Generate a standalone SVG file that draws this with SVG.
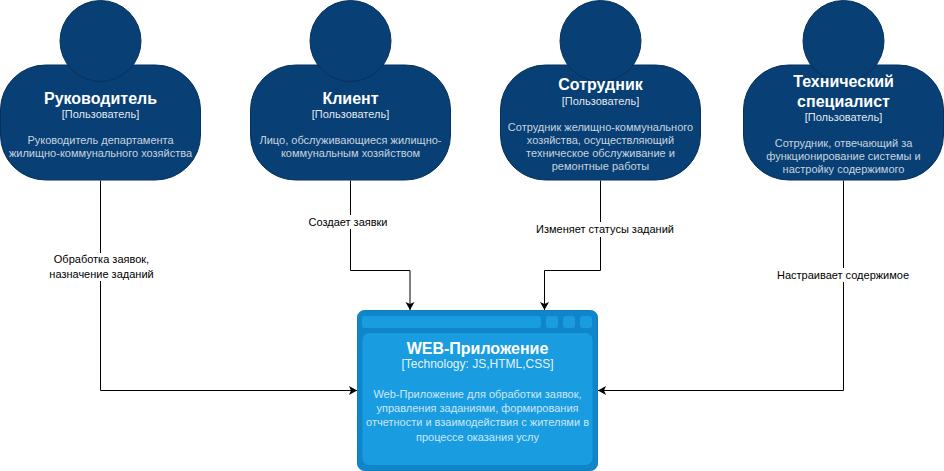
<svg xmlns="http://www.w3.org/2000/svg" width="944" height="471" viewBox="0 0 944 471">
<style>
text{font-family:"Liberation Sans",Arial,sans-serif;text-anchor:middle}
.body,.head{fill:#083f75;stroke:#06315c;stroke-width:1}
.t{font-size:16px;font-weight:bold;fill:#fff}
.s{font-size:11px;fill:#fff;fill-opacity:.9}
.s2{font-size:12px;fill:#fff;fill-opacity:.9}
.d{font-size:11px;fill:#fff;fill-opacity:.78}
.l{font-size:11px;fill:#000}
.lb{fill:#fff}
.c{fill:none;stroke:#000;stroke-width:1}
.w{fill:#1a9de0}
</style>
<defs>
<marker id="a" markerUnits="userSpaceOnUse" markerWidth="10" markerHeight="10" refX="8" refY="4.500" orient="auto"><path d="M0 0L8 4.500L0 9L2 4.500Z" fill="#000"/></marker>
</defs>
<g id="connectors">
<path class="c" marker-end="url(#a)" d="M100.500 180.500V390.500H357"/>
<path class="c" marker-end="url(#a)" d="M350.500 180.500V270.500H410V310"/>
<path class="c" marker-end="url(#a)" d="M600.500 180.500V270.500H544.500V310"/>
<path class="c" marker-end="url(#a)" d="M843.500 180.500V390.500H598"/>
<rect class="lb" x="48" y="253" width="106" height="28"/>
<rect class="lb" x="308" y="215" width="81" height="14"/>
<rect class="lb" x="535" y="222" width="140" height="15"/>
<rect class="lb" x="776" y="268" width="134" height="14"/>
<text class="l" x="101.500" y="263">Обработка заявок,</text>
<text class="l" x="101.500" y="278">назначение заданий</text>
<text class="l" x="348" y="226">Создает заявки</text>
<text class="l" x="605" y="233">Изменяет статусы заданий</text>
<text class="l" x="843" y="279">Настраивает содержимое</text>
</g>
<g id="person-manager">
<rect class="body" x="0.500" y="65" width="200" height="115" rx="45"/>
<circle class="head" cx="100.500" cy="41" r="40.500"/>
<text class="t" x="100.500" y="104">Руководитель</text>
<text class="s" x="100.500" y="118">[Пользователь]</text>
<text class="d" x="100.500" y="144">Руководитель департамента</text>
<text class="d" x="100.500" y="157">жилищно-коммунального хозяйства</text>
</g>
<g id="person-client">
<rect class="body" x="250.500" y="65" width="200" height="115" rx="45"/>
<circle class="head" cx="350.500" cy="41" r="40.500"/>
<text class="t" x="350.500" y="104">Клиент</text>
<text class="s" x="350.500" y="118">[Пользователь]</text>
<text class="d" x="350.500" y="144">Лицо, обслуживающиеся жилищно-</text>
<text class="d" x="350.500" y="157">коммунальным хозяйством</text>
</g>
<g id="person-employee">
<rect class="body" x="500.500" y="65" width="200" height="115" rx="45"/>
<circle class="head" cx="600.500" cy="41" r="40.500"/>
<text class="t" x="600.500" y="90">Сотрудник</text>
<text class="s" x="600.500" y="105">[Пользователь]</text>
<text class="d" x="600.500" y="131">Сотрудник желищно-коммунального</text>
<text class="d" x="600.500" y="144">хозяйства, осуществляющий</text>
<text class="d" x="600.500" y="157">техническое обслуживание и</text>
<text class="d" x="600.500" y="170">ремонтные работы</text>
</g>
<g id="person-tech">
<rect class="body" x="743.500" y="65" width="200" height="115" rx="45"/>
<circle class="head" cx="843.500" cy="41" r="40.500"/>
<text class="t" x="843.500" y="87">Технический</text>
<text class="t" x="843.500" y="107">специалист</text>
<text class="s" x="843.500" y="121">[Пользователь]</text>
<text class="d" x="843.500" y="147">Сотрудник, отвечающий за</text>
<text class="d" x="843.500" y="160">функционирование системы и</text>
<text class="d" x="843.500" y="173">настройку содержимого</text>
</g>
<g id="web-app">
<rect x="357.500" y="310.500" width="240" height="160" rx="7" fill="#0f86c9" stroke="#0f7fc0"/>
<rect class="w" x="362" y="316" width="179" height="12" rx="3"/>
<rect class="w" x="546" y="316" width="12" height="12" rx="3"/>
<rect class="w" x="563" y="316" width="12" height="12" rx="3"/>
<rect class="w" x="580" y="316" width="12" height="12" rx="3"/>
<rect class="w" x="362.500" y="333" width="230" height="132" rx="7"/>
<text class="t" x="477.500" y="354">WEB-Приложение</text>
<text class="s2" x="477.500" y="368">[Technology: JS,HTML,CSS]</text>
<text class="d" x="477.500" y="398">Web-Приложение для обработки заявок,</text>
<text class="d" x="477.500" y="412">управления заданиями, формирования</text>
<text class="d" x="477.500" y="426">отчетности и взаимодействия с жителями в</text>
<text class="d" x="477.500" y="441">процессе оказания услу</text>
</g>
</svg>
